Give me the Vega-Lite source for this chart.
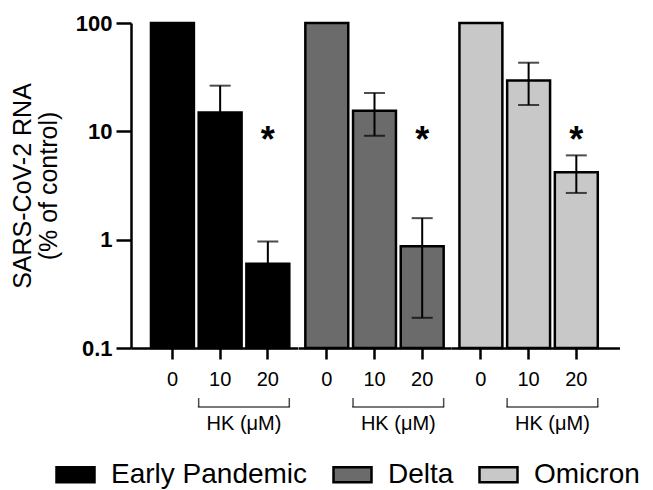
{
  "$schema": "https://vega.github.io/schema/vega-lite/v6.json",
  "padding": {"left": 10, "top": 12, "right": 5, "bottom": 0},
  "data": {"values": [
    {"variant": "Early Pandemic", "conc": "0", "value": 100, "lo": null, "hi": null, "sig": ""},
    {"variant": "Early Pandemic", "conc": "10", "value": 14.9, "lo": 8.5, "hi": 26.4, "sig": ""},
    {"variant": "Early Pandemic", "conc": "20", "value": 0.6, "lo": 0.35, "hi": 0.96, "sig": "*"},
    {"variant": "Delta", "conc": "0", "value": 100, "lo": null, "hi": null, "sig": ""},
    {"variant": "Delta", "conc": "10", "value": 15.5, "lo": 9.1, "hi": 22.6, "sig": ""},
    {"variant": "Delta", "conc": "20", "value": 0.87, "lo": 0.19, "hi": 1.58, "sig": "*"},
    {"variant": "Omicron", "conc": "0", "value": 100, "lo": null, "hi": null, "sig": ""},
    {"variant": "Omicron", "conc": "10", "value": 29.4, "lo": 17.5, "hi": 43, "sig": ""},
    {"variant": "Omicron", "conc": "20", "value": 4.2, "lo": 2.7, "hi": 6.0, "sig": "*"}
  ]},
  "spacing": 0,
  "hconcat": [
    {
      "width": 166.5, "height": 325,
      "transform": [{"filter": "datum.variant === 'Early Pandemic'"}],
      "encoding": {
        "x": {"field": "conc", "type": "nominal", "scale": {"domain": ["0", "10", "20"], "paddingInner": 0.1, "paddingOuter": 0.2953, "align": 0.709},
              "axis": {"title": null, "labelAngle": 0, "labelFontSize": 20, "tickSize": 11, "labelPadding": 10}}
      },
      "layer": [
        {"mark": {"type": "bar", "stroke": "black", "strokeWidth": 2.5},
         "encoding": {
           "y": {"field": "value", "type": "quantitative", "scale": {"type": "log", "domain": [0.1, 100]},
                 "axis": {"values": [0.1, 1, 10, 100], "labelExpr": "datum.value < 1 ? '0.1' : format(datum.value, 'd')", "labelFontSize": 22, "labelFontWeight": "bold", "tickSize": 15, "labelPadding": 4, "title": ["SARS-CoV-2 RNA", "(% of control)"], "titleFontSize": 25, "titleFontWeight": "normal", "titlePadding": 14, "titleLineHeight": 26}},
           "y2": {"datum": 0.1},
           "color": {"field": "variant", "type": "nominal", "scale": {"domain": ["Early Pandemic", "Delta", "Omicron"], "range": ["#000000", "#6b6b6b", "#c8c8c8"]},
                     "legend": {"title": null, "orient": "none", "legendX": -76, "legendY": 431, "direction": "horizontal", "symbolType": "M-1,-0.4H1V0.4H-1Z", "symbolSize": 1444, "symbolStrokeColor": "black", "symbolStrokeWidth": 2.5, "labelFontSize": 28, "labelLimit": 0, "labelOffset": 15, "columnPadding": 20}}
         }},
        {"transform": [{"filter": "datum.hi != null"}], "mark": {"type": "rule", "color": "black", "strokeWidth": 2},
         "encoding": {"y": {"field": "lo", "type": "quantitative", "scale": {"type": "log", "domain": [0.1, 100]}}, "y2": {"field": "hi"}}},
        {"transform": [{"filter": "datum.hi != null"}], "mark": {"type": "tick", "color": "black", "thickness": 2, "size": 21, "orient": "horizontal"},
         "encoding": {"y": {"field": "hi", "type": "quantitative"}}},
        {"transform": [{"filter": "datum.hi != null"}], "mark": {"type": "tick", "color": "black", "thickness": 2, "size": 21, "orient": "horizontal"},
         "encoding": {"y": {"field": "lo", "type": "quantitative"}}},
        {"transform": [{"filter": "datum.sig == '*'"}], "mark": {"type": "text", "text": "*", "fontSize": 36, "fontWeight": "bold", "baseline": "middle", "dy": 10, "color": "black"},
         "encoding": {"y": {"datum": 10}}},
        {"transform": [{"filter": "datum.conc == '0'"}], "mark": {"type": "tick", "color": "black", "thickness": 1.5, "size": 92, "orient": "horizontal", "yOffset": 59, "xOffset": 23.7},
         "encoding": {"x": {"datum": "10"}, "y": {"datum": 0.1}}},
        {"transform": [{"filter": "datum.conc == '0'"}], "mark": {"type": "tick", "color": "black", "thickness": 1.5, "size": 9, "orient": "vertical", "yOffset": 54.5},
         "encoding": {"x": {"datum": "10", "bandPosition": 0}, "y": {"datum": 0.1}}},
        {"transform": [{"filter": "datum.conc == '0'"}], "mark": {"type": "tick", "color": "black", "thickness": 1.5, "size": 9, "orient": "vertical", "yOffset": 54.5},
         "encoding": {"x": {"datum": "20", "bandPosition": 1}, "y": {"datum": 0.1}}},
        {"transform": [{"filter": "datum.conc == '0'"}], "mark": {"type": "text", "text": "HK (μM)", "fontSize": 20, "baseline": "middle", "dy": 76, "color": "black"},
         "encoding": {"x": {"datum": "10", "bandPosition": 1.055}, "y": {"datum": 0.1}}}
      ]
    },
    {
      "width": 153, "height": 325,
      "transform": [{"filter": "datum.variant === 'Delta'"}],
      "encoding": {
        "x": {"field": "conc", "type": "nominal", "scale": {"domain": ["0", "10", "20"], "paddingInner": 0.1, "paddingOuter": 0.1538, "align": 0.5},
              "axis": {"title": null, "labelAngle": 0, "labelFontSize": 20, "tickSize": 11, "labelPadding": 10}}
      },
      "layer": [
        {"mark": {"type": "bar", "stroke": "black", "strokeWidth": 2.5},
         "encoding": {
           "y": {"field": "value", "type": "quantitative", "scale": {"type": "log", "domain": [0.1, 100]}, "axis": null},
           "y2": {"datum": 0.1},
           "color": {"field": "variant", "type": "nominal", "scale": {"domain": ["Early Pandemic", "Delta", "Omicron"], "range": ["#000000", "#6b6b6b", "#c8c8c8"]}}
         }},
        {"transform": [{"filter": "datum.hi != null"}], "mark": {"type": "rule", "color": "black", "strokeWidth": 2},
         "encoding": {"y": {"field": "lo", "type": "quantitative", "scale": {"type": "log", "domain": [0.1, 100]}}, "y2": {"field": "hi"}}},
        {"transform": [{"filter": "datum.hi != null"}], "mark": {"type": "tick", "color": "black", "thickness": 2, "size": 21, "orient": "horizontal"},
         "encoding": {"y": {"field": "hi", "type": "quantitative"}}},
        {"transform": [{"filter": "datum.hi != null"}], "mark": {"type": "tick", "color": "black", "thickness": 2, "size": 21, "orient": "horizontal"},
         "encoding": {"y": {"field": "lo", "type": "quantitative"}}},
        {"transform": [{"filter": "datum.sig == '*'"}], "mark": {"type": "text", "text": "*", "fontSize": 36, "fontWeight": "bold", "baseline": "middle", "dy": 10, "color": "black"},
         "encoding": {"y": {"datum": 10}}},
        {"transform": [{"filter": "datum.conc == '0'"}], "mark": {"type": "tick", "color": "black", "thickness": 1.5, "size": 92, "orient": "horizontal", "yOffset": 59, "xOffset": 23.7},
         "encoding": {"x": {"datum": "10"}, "y": {"datum": 0.1}}},
        {"transform": [{"filter": "datum.conc == '0'"}], "mark": {"type": "tick", "color": "black", "thickness": 1.5, "size": 9, "orient": "vertical", "yOffset": 54.5},
         "encoding": {"x": {"datum": "10", "bandPosition": 0}, "y": {"datum": 0.1}}},
        {"transform": [{"filter": "datum.conc == '0'"}], "mark": {"type": "tick", "color": "black", "thickness": 1.5, "size": 9, "orient": "vertical", "yOffset": 54.5},
         "encoding": {"x": {"datum": "20", "bandPosition": 1}, "y": {"datum": 0.1}}},
        {"transform": [{"filter": "datum.conc == '0'"}], "mark": {"type": "text", "text": "HK (μM)", "fontSize": 20, "baseline": "middle", "dy": 76, "color": "black"},
         "encoding": {"x": {"datum": "10", "bandPosition": 1.055}, "y": {"datum": 0.1}}}
      ]
    },
    {
      "width": 168.5, "height": 325,
      "transform": [{"filter": "datum.variant === 'Omicron'"}],
      "encoding": {
        "x": {"field": "conc", "type": "nominal", "scale": {"domain": ["0", "10", "20"], "paddingInner": 0.1, "paddingOuter": 0.3162, "align": 0.28},
              "axis": {"title": null, "labelAngle": 0, "labelFontSize": 20, "tickSize": 11, "labelPadding": 10}}
      },
      "layer": [
        {"mark": {"type": "bar", "stroke": "black", "strokeWidth": 2.5},
         "encoding": {
           "y": {"field": "value", "type": "quantitative", "scale": {"type": "log", "domain": [0.1, 100]}, "axis": null},
           "y2": {"datum": 0.1},
           "color": {"field": "variant", "type": "nominal", "scale": {"domain": ["Early Pandemic", "Delta", "Omicron"], "range": ["#000000", "#6b6b6b", "#c8c8c8"]}}
         }},
        {"transform": [{"filter": "datum.hi != null"}], "mark": {"type": "rule", "color": "black", "strokeWidth": 2},
         "encoding": {"y": {"field": "lo", "type": "quantitative", "scale": {"type": "log", "domain": [0.1, 100]}}, "y2": {"field": "hi"}}},
        {"transform": [{"filter": "datum.hi != null"}], "mark": {"type": "tick", "color": "black", "thickness": 2, "size": 21, "orient": "horizontal"},
         "encoding": {"y": {"field": "hi", "type": "quantitative"}}},
        {"transform": [{"filter": "datum.hi != null"}], "mark": {"type": "tick", "color": "black", "thickness": 2, "size": 21, "orient": "horizontal"},
         "encoding": {"y": {"field": "lo", "type": "quantitative"}}},
        {"transform": [{"filter": "datum.sig == '*'"}], "mark": {"type": "text", "text": "*", "fontSize": 36, "fontWeight": "bold", "baseline": "middle", "dy": 10, "color": "black"},
         "encoding": {"y": {"datum": 10}}},
        {"transform": [{"filter": "datum.conc == '0'"}], "mark": {"type": "tick", "color": "black", "thickness": 1.5, "size": 92, "orient": "horizontal", "yOffset": 59, "xOffset": 23.7},
         "encoding": {"x": {"datum": "10"}, "y": {"datum": 0.1}}},
        {"transform": [{"filter": "datum.conc == '0'"}], "mark": {"type": "tick", "color": "black", "thickness": 1.5, "size": 9, "orient": "vertical", "yOffset": 54.5},
         "encoding": {"x": {"datum": "10", "bandPosition": 0}, "y": {"datum": 0.1}}},
        {"transform": [{"filter": "datum.conc == '0'"}], "mark": {"type": "tick", "color": "black", "thickness": 1.5, "size": 9, "orient": "vertical", "yOffset": 54.5},
         "encoding": {"x": {"datum": "20", "bandPosition": 1}, "y": {"datum": 0.1}}},
        {"transform": [{"filter": "datum.conc == '0'"}], "mark": {"type": "text", "text": "HK (μM)", "fontSize": 20, "baseline": "middle", "dy": 76, "color": "black"},
         "encoding": {"x": {"datum": "10", "bandPosition": 1.055}, "y": {"datum": 0.1}}}
      ]
    }
  ],
  "resolve": {"scale": {"x": "independent", "y": "independent", "color": "shared"}, "legend": {"color": "shared"}},
  "config": {
    "font": "Liberation Sans",
    "view": {"stroke": null},
    "axis": {"grid": false, "domainColor": "black", "domainWidth": 2.5, "tickColor": "black", "tickWidth": 2.5, "labelColor": "black", "titleColor": "black"},
    "legend": {"labelColor": "black"}
  }
}
